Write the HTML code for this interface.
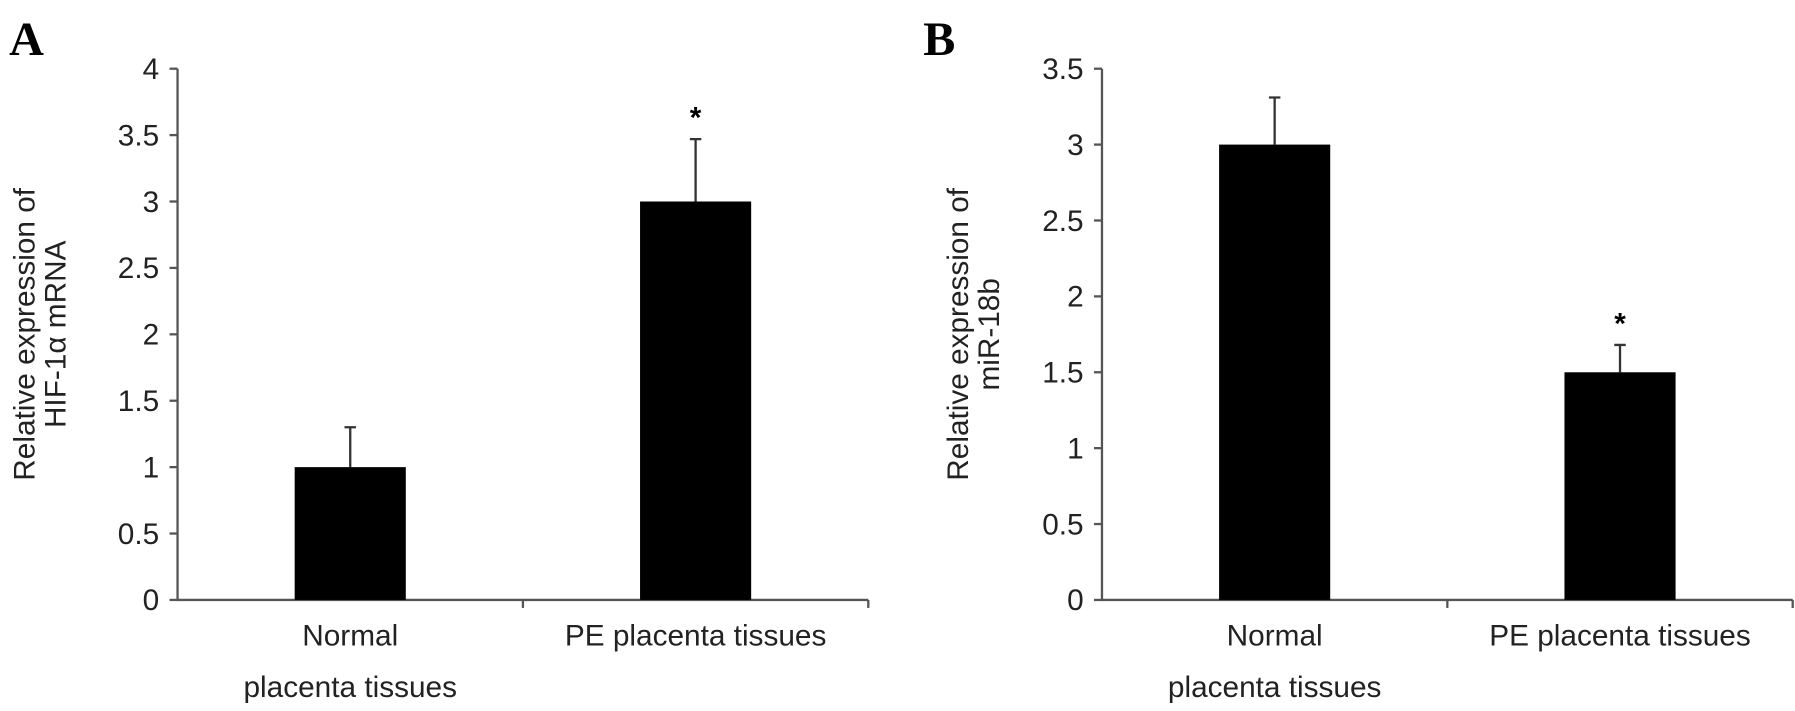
<!DOCTYPE html>
<html><head><meta charset="utf-8"><style>
body{margin:0;background:#fff;}
svg{display:block;font-family:"Liberation Sans",Arial,sans-serif;}
</style></head><body>
<svg id="fig" width="1795" height="711" viewBox="0 0 1567 621" preserveAspectRatio="none" xmlns="http://www.w3.org/2000/svg"></svg>
<script>
const categories = ["Normal|placenta tissues", "PE placenta tissues"];
const valuesA = [1.0, 3.0];
const errorsA = [0.30, 0.47];
const sigA = [false, true];
const ticksA = ["0","0.5","1","1.5","2","2.5","3","3.5","4"];
const valuesB = [3.0, 1.5];
const errorsB = [0.31, 0.18];
const sigB = [false, true];
const ticksB = ["0","0.5","1","1.5","2","2.5","3","3.5"];

const NS = "http://www.w3.org/2000/svg";
const svg = document.getElementById('fig');
function mk(tag, attrs, parent, text){
  const e = document.createElementNS(NS, tag);
  for (const k in attrs) e.setAttribute(k, attrs[k]);
  if (text !== undefined) e.textContent = text;
  (parent || svg).appendChild(e);
  return e;
}
function panel(cfg){
  const g = mk('g', {});
  
  
  const x0 = cfg.x0, x1 = cfg.x1, yTop = 60, yBot = 524, max = cfg.max;
  const y = v => yBot - v / max * (yBot - yTop);
  const n = cfg.values.length, bw = (x1 - x0) / n;
  const xc = i => x0 + bw * (i + 0.5);
  const lbl = mk('text', {x: cfg.lx, y: 48, 'font-family': '"Liberation Serif",serif', 'font-weight': 'bold', 'font-size': 42}, g, cfg.letter);
  
  
  const ax = mk('path', {d: `M${x0},${yTop}V${yBot}H${x1}`, stroke: '#555', 'stroke-width': 2, fill: 'none'}, g);
  
  
  cfg.ticks.forEach((t, i) => {
    const v = parseFloat(t), yy = y(v);
    mk('line', {x1: x0 - 7, x2: x0, y1: yy, y2: yy, stroke: '#555', 'stroke-width': 2}, g);
    const tl = mk('text', {x: x0 - 16, y: yy + 9, 'text-anchor': 'end', 'font-size': 26, fill: '#222'}, g, t);
    
    
  });
  for (let i = 1; i <= n; i++) {
    const xx = x0 + bw * i;
    mk('line', {x1: xx, x2: xx, y1: yBot, y2: yBot + 7, stroke: '#555', 'stroke-width': 2}, g);
  }
  const yt = mk('text', {transform: `translate(${cfg.tx},${cfg.ty}) rotate(-90)`, 'text-anchor': 'middle', 'font-size': 26, fill: '#222'}, g);
  
  
  mk('tspan', {x: 0, dy: 0}, yt, cfg.title[0]);
  mk('tspan', {x: 0, dy: 27}, yt, cfg.title[1]);
  cfg.values.forEach((v, i) => {
    const c = xc(i), w = 97;
    const et = y(v + cfg.errors[i]);
    const el = mk('path', {d: `M${c},${y(v)}V${et}M${c - 5},${et}H${c + 5}`, stroke: '#333', 'stroke-width': 2, fill: 'none'}, g);
    
    
    const b = mk('rect', {x: c - w / 2, y: y(v), width: w, height: yBot - y(v), fill: '#000'}, g);
    
    
    if (cfg.sig[i]) {
      const s = mk('text', {x: c, y: et - 10, 'text-anchor': 'middle', 'font-size': 26, 'font-weight': 'bold'}, g, '*');
      
      
    }
    const parts = categories[i].split('|');
    parts.forEach((p, j) => {
      const ct = mk('text', {x: c, y: 564 + j * 45, 'text-anchor': 'middle', 'font-size': 26, fill: '#222'}, g, p);
      
      
    });
  });
}
panel({name: 'panel-a', letter: 'A', lx: 8, x0: 155, x1: 758, max: 4, values: valuesA, errors: errorsA, sig: sigA, ticks: ticksA, tx: 30, ty: 292, title: ['Relative expression of', 'HIF-1\u03b1 mRNA']});
panel({name: 'panel-b', letter: 'B', lx: 806, x0: 962, x1: 1565, max: 3.5, values: valuesB, errors: errorsB, sig: sigB, ticks: ticksB, tx: 845, ty: 292, title: ['Relative expression of', 'miR-18b']});
</script>
</body></html>
